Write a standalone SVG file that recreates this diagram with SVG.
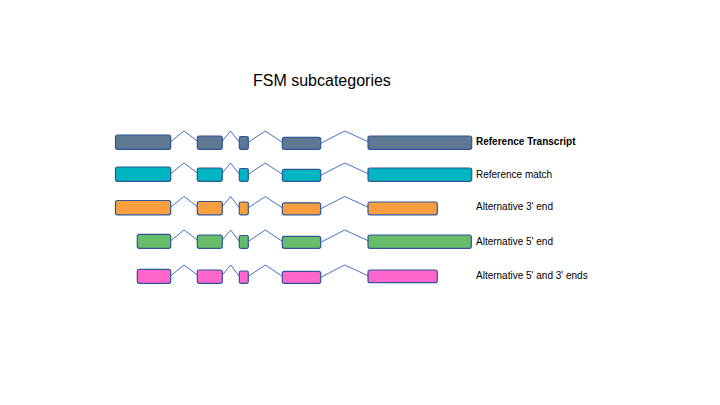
<svg xmlns="http://www.w3.org/2000/svg" width="720" height="405" viewBox="0 0 720 405">
<style>
.ex{stroke:#2F5597;stroke-width:1.2}
.g{fill:#5E7891}.t{fill:#00B5C2}.o{fill:#F89E3F}.gr{fill:#68BD6B}.p{fill:#FF66CC}
.in{fill:none;stroke:#4472C4;stroke-width:1}
.lb{font-family:"Liberation Sans",Arial,sans-serif;font-size:10px;fill:#000}
.title{font-family:"Liberation Sans",Arial,sans-serif;font-size:16px;fill:#000}
</style>
<rect width="720" height="405" fill="#fff"/>
<text class="title" x="253" y="86">FSM subcategories</text>
<g id="connectors">
<g id="introns-row1">
<polyline class="in" points="170.7,141.7 184,131 197.3,141"/>
<polyline class="in" points="222.3,141 230.7,131 239.3,142.3"/>
<polyline class="in" points="248.3,142.3 265.3,131 282.3,142.3"/>
<polyline class="in" points="320.7,143.3 344.7,131 368,141.7"/>
</g>
<g id="introns-row2" transform="translate(0,32)">
<polyline class="in" points="170.7,141.7 184,131 197.3,141"/>
<polyline class="in" points="222.3,141 230.7,131 239.3,142.3"/>
<polyline class="in" points="248.3,142.3 265.3,131 282.3,142.3"/>
<polyline class="in" points="320.7,143.3 344.7,131 368,141.7"/>
</g>
<g id="introns-row3" transform="translate(0,65.5)">
<polyline class="in" points="170.7,141.7 184,131 197.3,141"/>
<polyline class="in" points="222.3,141 230.7,131 239.3,142.3"/>
<polyline class="in" points="248.3,142.3 265.3,131 282.3,142.3"/>
<polyline class="in" points="320.7,143.3 344.7,131 368,141.7"/>
</g>
<g id="introns-row4" transform="translate(0,99)">
<polyline class="in" points="170.7,141.7 184,131 197.3,141"/>
<polyline class="in" points="222.3,141 230.7,131 239.3,142.3"/>
<polyline class="in" points="248.3,142.3 265.3,131 282.3,142.3"/>
<polyline class="in" points="320.7,143.3 344.7,131 368,141.7"/>
</g>
<g id="introns-row5" transform="translate(0,134)">
<polyline class="in" points="170.7,141.7 184,131 197.3,141"/>
<polyline class="in" points="222.3,141 230.7,131 239.3,142.3"/>
<polyline class="in" points="248.3,142.3 265.3,131 282.3,142.3"/>
<polyline class="in" points="320.7,143.3 344.7,131 368,141.7"/>
</g>
</g>
<g id="row1-reference-transcript">
<rect class="ex g" x="115.5" y="135" width="55.2" height="14.3" rx="2"/>
<rect class="ex g" x="197.3" y="136" width="25" height="13.3" rx="2"/>
<rect class="ex g" x="239.3" y="136.5" width="9" height="12.8" rx="1.5"/>
<rect class="ex g" x="282.3" y="137.3" width="38.4" height="12" rx="2"/>
<rect class="ex g" x="368" y="136" width="103.7" height="13.3" rx="2"/>
<text class="lb" x="476" y="144.5" font-weight="bold" font-size="9.1">Reference Transcript</text>
</g>
<g id="row2-reference-match" transform="translate(0,32)">
<rect class="ex t" x="115.5" y="135" width="55.2" height="14.3" rx="2"/>
<rect class="ex t" x="197.3" y="136" width="25" height="13.3" rx="2"/>
<rect class="ex t" x="239.3" y="136.5" width="9" height="12.8" rx="1.5"/>
<rect class="ex t" x="282.3" y="137.3" width="38.4" height="12" rx="2"/>
<rect class="ex t" x="368" y="136" width="103.7" height="13.3" rx="2"/>
<text class="lb" x="476" y="146.3">Reference match</text>
</g>
<g id="row3-alt-3-end" transform="translate(0,65.5)">
<rect class="ex o" x="115.5" y="135" width="55.2" height="14.3" rx="2"/>
<rect class="ex o" x="197.3" y="136" width="25" height="13.3" rx="2"/>
<rect class="ex o" x="239.3" y="136.5" width="9" height="12.8" rx="1.5"/>
<rect class="ex o" x="282.3" y="137.3" width="38.4" height="12" rx="2"/>
<rect class="ex o" x="368" y="136.5" width="69.3" height="12.8" rx="2"/>
<text class="lb" x="476" y="144.8">Alternative 3' end</text>
</g>
<g id="row4-alt-5-end" transform="translate(0,99)">
<rect class="ex gr" x="137.3" y="135.3" width="33.4" height="14" rx="2"/>
<rect class="ex gr" x="197.3" y="136" width="25" height="13.3" rx="2"/>
<rect class="ex gr" x="239.3" y="136.5" width="9" height="12.8" rx="1.5"/>
<rect class="ex gr" x="282.3" y="137.3" width="38.4" height="12" rx="2"/>
<rect class="ex gr" x="368" y="136" width="103.3" height="13.3" rx="2"/>
<text class="lb" x="476" y="146">Alternative 5' end</text>
</g>
<g id="row5-alt-5-3-ends" transform="translate(0,134)">
<rect class="ex p" x="137.3" y="135.3" width="33.4" height="14" rx="2"/>
<rect class="ex p" x="197.3" y="136" width="25" height="13.3" rx="2"/>
<rect class="ex p" x="239.3" y="137" width="9" height="12.3" rx="1.5"/>
<rect class="ex p" x="282.3" y="137.3" width="38.4" height="12" rx="2"/>
<rect class="ex p" x="368" y="136" width="69.3" height="12.7" rx="2"/>
<text class="lb" x="476" y="145.3">Alternative 5' and 3' ends</text>
</g>
</svg>
